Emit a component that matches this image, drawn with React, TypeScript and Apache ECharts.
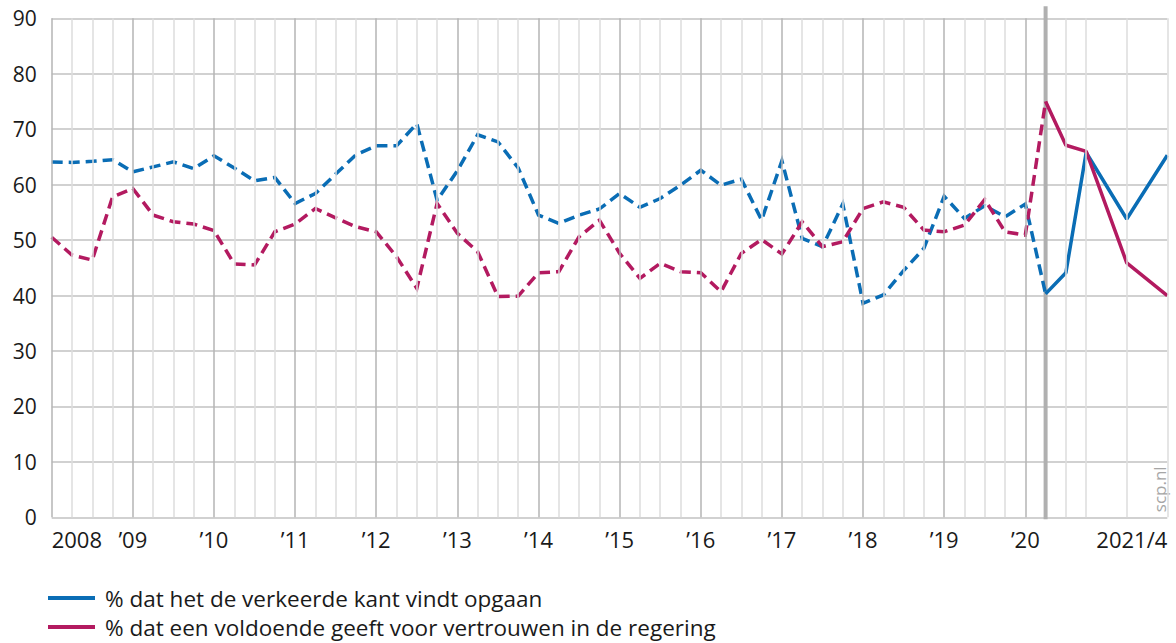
import React, { useEffect, useRef } from "react";
import * as echarts from "echarts";

// Quarter index since 2008 Q1 (0) ; after the 2020 break the measurements are irregular
const seriesNames = [
  "% dat het de verkeerde kant vindt opgaan",
  "% dat een voldoende geeft voor vertrouwen in de regering",
];

// Dashed part: quarterly measurements, 2008 Q1 .. 2020 Q2 (index 0..49)
const wrongWayDashed = [
  64.1, 64.0, 64.2, 64.5, 62.3, 63.2, 64.1, 62.9, 65.2, 63.0,
  60.7, 61.3, 56.6, 58.4, 61.9, 65.4, 67.0, 67.0, 71.0, 57.2,
  62.5, 69.0, 67.7, 63.0, 54.5, 53.0, 54.5, 55.6, 58.4, 55.9,
  57.5, 59.9, 62.6, 59.9, 61.0, 53.6, 64.3, 50.3, 48.8, 56.5,
  38.6, 40.1, 44.5, 48.5, 57.9, 53.9, 56.2, 54.2, 56.5, 40.3,
];
const trustDashed = [
  50.5, 47.3, 46.4, 57.8, 59.3, 54.5, 53.3, 52.9, 51.7, 45.7,
  45.5, 51.5, 52.9, 55.7, 54.0, 52.4, 51.5, 47.0, 41.3, 56.6,
  51.2, 47.9, 39.8, 39.9, 44.1, 44.3, 50.6, 53.6, 47.6, 43.1,
  45.8, 44.3, 44.1, 40.7, 47.6, 50.1, 47.5, 53.3, 48.8, 49.7,
  55.7, 56.9, 55.9, 51.8, 51.5, 52.7, 57.3, 51.5, 50.9, 75.0,
];

// Solid part: measurements from 2020/4 to 2021/4
const solidX = [49, 50, 51, 53, 55];
const wrongWaySolid = [40.3, 44.1, 65.8, 53.8, 65.3];
const trustSolid = [75.0, 67.1, 66.0, 45.9, 40.0];

// x-axis labels
const yearTickPositions = [0, 4, 8, 12, 16, 20, 24, 28, 32, 36, 40, 44, 48, 55];
const yearTickLabels = [
  "2008", "\u201909", "\u201910", "\u201911", "\u201912", "\u201913", "\u201914",
  "\u201915", "\u201916", "\u201917", "\u201918", "\u201919", "\u201920", "2021/4",
];
const breakPosition = 49;

const BLUE = "#0a6db5";
const RED = "#b31a60";
const FONT = "'Open Sans', sans-serif";

export default function App() {
  const ref = useRef<HTMLDivElement>(null);

  useEffect(() => {
    if (!ref.current) return;
    const chart = echarts.init(ref.current, null, { renderer: "svg" });

    const dashedX = wrongWayDashed.map((_, i) => i);
    const xMax = solidX[solidX.length - 1];

    // vertical grid lines
    const vLines: any[] = [];
    const minorPositions: number[] = [];
    for (let q = 0; q <= 48; q++) if (q % 4 !== 0) minorPositions.push(q);
    solidX.forEach((x) => {
      if (x !== breakPosition) minorPositions.push(x);
    });
    minorPositions.forEach((x) =>
      vLines.push({ xAxis: x, lineStyle: { color: "#dcdcdc", width: 1.5, type: "solid" } })
    );
    yearTickPositions.slice(0, -1).forEach((x) =>
      vLines.push({ xAxis: x, lineStyle: { color: "#b4b4b4", width: 1.5, type: "solid" } })
    );

    const lineBase = { type: "line", showSymbol: false, symbol: "none", silent: true, z: 3 };

    const legendBase = {
      left: 48,
      padding: 0,
      itemWidth: 47,
      itemHeight: 4,
      selectedMode: false,
      textStyle: {
        fontFamily: FONT,
        fontSize: 22.5,
        lineHeight: 24,
        color: "#1a1a1a",
        padding: [0, 0, 0, 5],
      },
    };

    chart.setOption({
      animation: false,
      grid: { left: 51.7, right: 8.7, top: 18.3, bottom: 125.7 },
      xAxis: {
        type: "value",
        min: 0,
        max: xMax,
        splitLine: { show: false },
        axisLine: { show: false },
        axisTick: { show: false },
        axisLabel: {
          customValues: yearTickPositions,
          formatter: (v: number) => {
            const i = yearTickPositions.indexOf(v);
            return i >= 0 ? yearTickLabels[i] : "";
          },
          alignMinLabel: "left",
          alignMaxLabel: "right",
          margin: 11,
          color: "#1a1a1a",
          fontFamily: FONT,
          fontSize: 22,
        },
      },
      yAxis: {
        type: "value",
        min: 0,
        max: 90,
        interval: 10,
        axisLine: { show: false },
        axisTick: { show: false },
        splitLine: { lineStyle: { color: "#c2c2c2", width: 1.5 } },
        axisLabel: { margin: 15, color: "#1a1a1a", fontFamily: FONT, fontSize: 21 },
      },
      legend: [
        {
          ...legendBase,
          top: 586,
          data: [{ name: seriesNames[0], icon: "rect", itemStyle: { color: BLUE } }],
        },
        {
          ...legendBase,
          top: 615,
          data: [{ name: seriesNames[1], icon: "rect", itemStyle: { color: RED } }],
        },
      ],
      series: [
        {
          type: "line",
          name: "grid",
          data: [],
          silent: true,
          z: 1,
          markLine: {
            silent: true,
            symbol: ["none", "none"],
            label: { show: false },
            emphasis: { disabled: true },
            animation: false,
            data: vLines,
          },
        },
        {
          ...lineBase,
          name: seriesNames[0],
          data: dashedX.map((x, i) => [x, wrongWayDashed[i]]),
          itemStyle: { color: BLUE },
          lineStyle: { color: BLUE, width: 3.5, type: [11, 6], join: "miter" },
        },
        {
          ...lineBase,
          name: seriesNames[1],
          data: dashedX.map((x, i) => [x, trustDashed[i]]),
          itemStyle: { color: RED },
          lineStyle: { color: RED, width: 3.5, type: [11, 6], join: "miter" },
        },
        {
          ...lineBase,
          name: seriesNames[0],
          data: solidX.map((x, i) => [x, wrongWaySolid[i]]),
          itemStyle: { color: BLUE },
          lineStyle: { color: BLUE, width: 3.5, type: "solid" },
        },
        {
          ...lineBase,
          name: seriesNames[1],
          data: solidX.map((x, i) => [x, trustSolid[i]]),
          itemStyle: { color: RED },
          lineStyle: { color: RED, width: 3.5, type: "solid" },
        },
      ],
    });

    // break line (through the axis scale), extending a little above the plot
    const pBottom = chart.convertToPixel({ gridIndex: 0 }, [breakPosition, 0]) as number[];
    const pTop = chart.convertToPixel({ gridIndex: 0 }, [breakPosition, 90]) as number[];
    const pCorner = chart.convertToPixel({ gridIndex: 0 }, [xMax, 0]) as number[];
    chart.setOption({
      graphic: [
        {
          type: "line",
          z: 2,
          silent: true,
          shape: { x1: pTop[0], y1: pTop[1] - 12, x2: pBottom[0], y2: pBottom[1] + 2 },
          style: { stroke: "#b0b0b0", lineWidth: 4 },
        },
        {
          type: "text",
          x: pCorner[0] - 8,
          y: pCorner[1] - 28,
          rotation: Math.PI / 2,
          silent: true,
          style: {
            text: "scp.nl",
            fill: "#a6a6a6",
            font: `17px ${FONT}`,
            align: "center",
            verticalAlign: "middle",
          },
        },
      ],
    });

    return () => chart.dispose();
  }, []);

  return (
    <div
      ref={ref}
      style={{ position: "fixed", left: 0, top: 0, width: 1176, height: 643, background: "#fff" }}
    />
  );
}
